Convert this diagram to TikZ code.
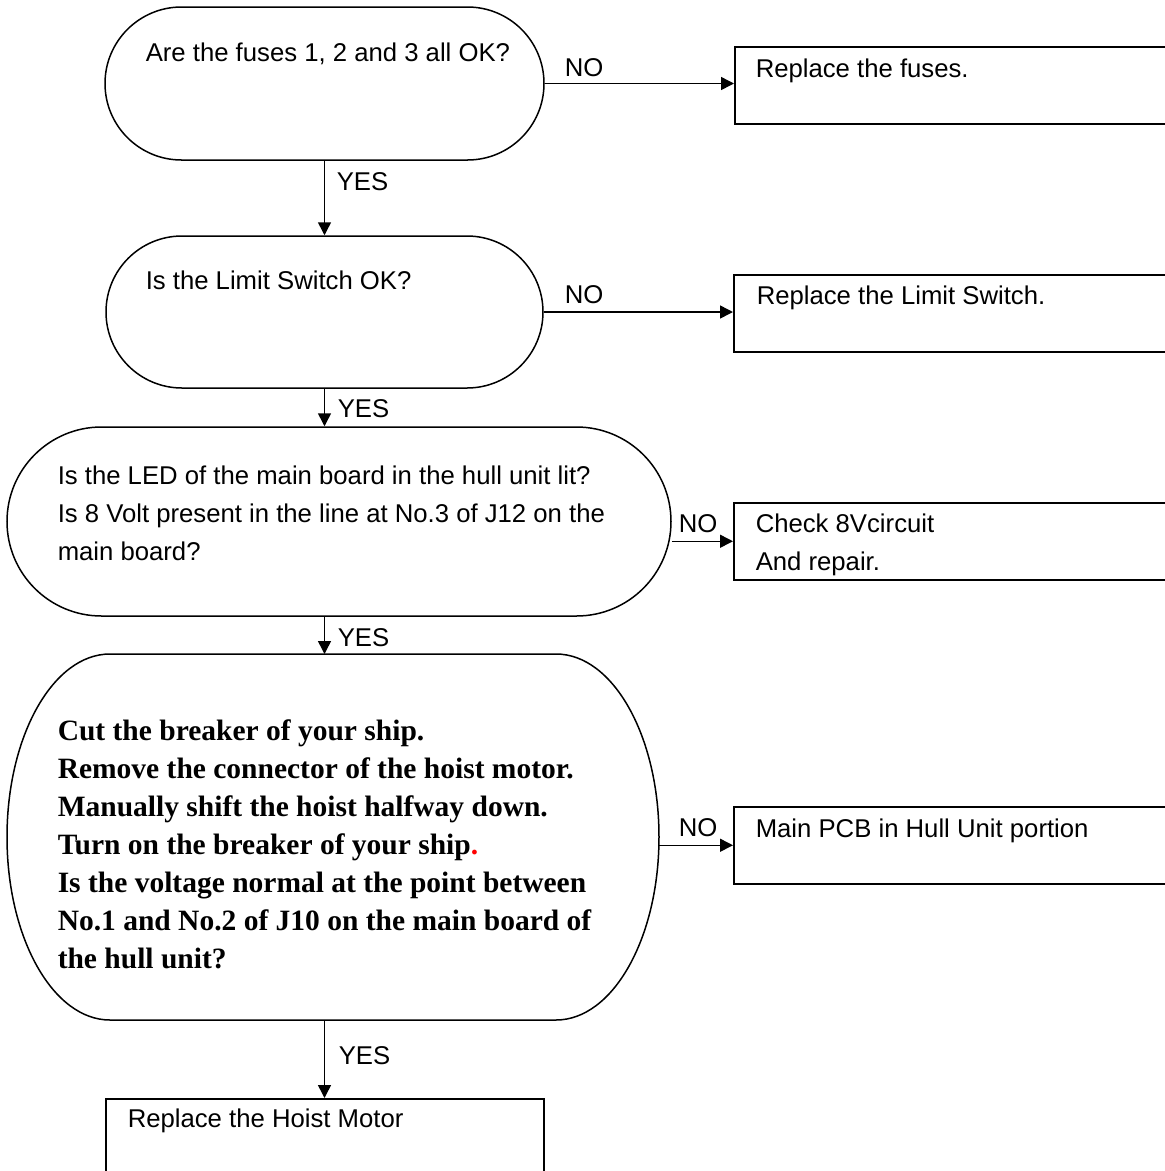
\documentclass[tikz,border=0pt]{standalone}
\usepackage{fontspec}
\setmainfont{Liberation Sans}
\newfontfamily\stepserif{Liberation Serif}
\usetikzlibrary{shapes.misc,arrows.meta}

\begin{document}
\begin{tikzpicture}[x=1pt,y=-1pt,line width=1.5pt,
  ask/.style={draw,rounded rectangle,inner sep=0pt},
  act/.style={draw,rectangle,inner sep=0pt,anchor=north west},
  txt/.style={inner sep=0pt,anchor=base west,align=left,font=\fontsize{25.7}{38}\selectfont},
  flow/.style={-{Triangle[length=13pt,width=13pt]}}]
\useasboundingbox (0,0) rectangle (1165,1171);
\clip (0,0) rectangle (1165,1171);
% questions
\node[ask,minimum width=439,minimum height=153] (qfuse) at (324.5,83.5) {};
\node[ask,minimum width=437,minimum height=152] (qlimit) at (324.5,312) {};
\node[ask,minimum width=664,minimum height=189] (qled) at (339,521.5) {};
\node[inner sep=0pt,outer sep=0pt,minimum width=652,minimum height=366] (qvolt) at (333,837) {};
\draw[line join=round] ([xshift=103pt]qvolt.north west) -- ([xshift=-103pt]qvolt.north east)
  arc[start angle=-90,end angle=90,x radius=103,y radius=183]
  -- ([xshift=103pt]qvolt.south west)
  arc[start angle=90,end angle=270,x radius=103,y radius=183] -- cycle;
\node[txt] (tfuse) at (145,61) {Are the fuses 1, 2 and 3 all OK?};
\node[txt] (tlimit) at (145,289) {Is the Limit Switch OK?};
\node[txt,anchor=west] (tled) at (57,513) {Is the LED of the main board in the hull unit lit?\\Is 8 Volt present in the line at No.3 of J12 on the\\main board?};
\node[txt,anchor=west,font=\stepserif\bfseries\fontsize{29.5}{38}\selectfont] (tvolt) at (57,844) {Cut the breaker of your ship.\\Remove the connector of the hoist motor.\\Manually shift the hoist halfway down.\\Turn on the breaker of your ship{\color{red}.}\\Is the voltage normal at the point between\\No.1 and No.2 of J10 on the main board of\\the hull unit?};
% actions
\node[act,minimum width=433,minimum height=77] (fuse) at (734,46) {};
\node[act,minimum width=434,minimum height=77] (limsw) at (733,274) {};
\node[act,minimum width=434,minimum height=77] (volt8) at (733,502) {};
\node[act,minimum width=434,minimum height=77] (pcb) at (733,806) {};
\node[act,minimum width=438,minimum height=95] (motor) at (105,1098) {};
\node[txt] (tfix1) at (755,77) {Replace the fuses.};
\node[txt] (tfix2) at (756,304) {Replace the Limit Switch.};
\node[txt,anchor=west] (tfix3) at (755,545) {Check 8Vcircuit\\And repair.};
\node[txt] (tfix4) at (755,837) {Main PCB in Hull Unit portion};
\node[txt] (tfix5) at (127,1127) {Replace the Hoist Motor};
% answers
\node[txt] (no1) at (564,76) {NO};
\node[txt] (no2) at (564,303) {NO};
\node[txt] (no3) at (678,532) {NO};
\node[txt] (no4) at (678,836) {NO};
\node[txt] (yes1) at (336,190) {YES};
\node[txt] (yes2) at (337,417) {YES};
\node[txt] (yes3) at (337,646) {YES};
\node[txt] (yes4) at (338,1064) {YES};
\draw[flow] (qfuse.east) -- (qfuse.east -| fuse.west);
\draw[flow] (qlimit.east) -- (qlimit.east -| limsw.west);
\draw[flow] (volt8.west -| qled.east) -- (volt8.west);
\draw[flow] (pcb.west -| qvolt.east) -- (pcb.west);
\draw[flow] (qfuse.south) -- (qlimit.north);
\draw[flow] (qlimit.south) -- (qlimit.south |- qled.north);
\draw[flow] (qlimit.south |- qled.south) -- (qlimit.south |- qvolt.north);
\draw[flow] (qlimit.south |- qvolt.south) -- (qlimit.south |- motor.north);
\end{tikzpicture}
\end{document}
